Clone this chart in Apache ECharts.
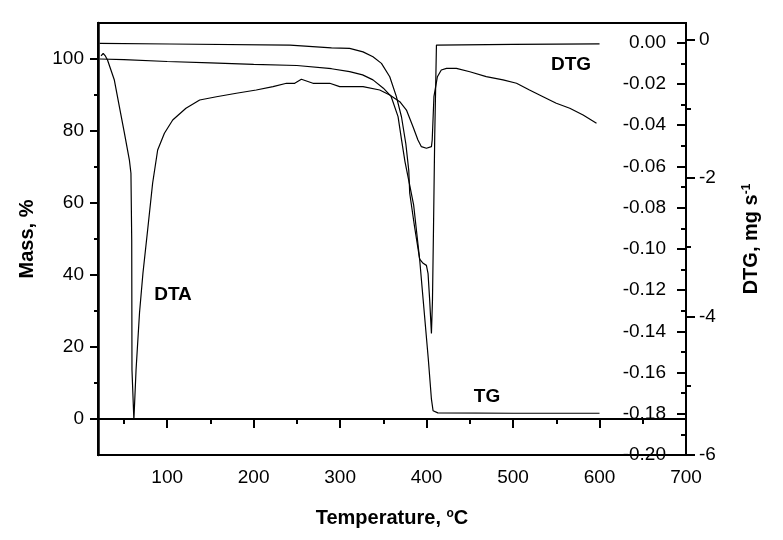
<!DOCTYPE html>
<html><head><meta charset="utf-8">
<script src="https://cdn.jsdelivr.net/npm/echarts@6/dist/echarts.min.js"></script>
<style>html,body{margin:0;padding:0;background:#fff}#c{width:783px;height:540px}</style>
</head><body><div id="c"></div>
<script>
// Temperature (°C) and mass (%) for the TG curve
const tgTemp = [22, 50, 100, 150, 200, 250, 290, 311, 326, 338, 350, 359, 367, 371, 375, 380, 385, 392, 396, 402, 405.6, 407.5, 413, 500, 600];
const tgMass = [100.0, 99.8, 99.3, 98.9, 98.5, 98.2, 97.3, 96.5, 95.6, 94.2, 91.9, 89.6, 84.0, 77.6, 71.5, 65.5, 59.5, 44.3, 33.2, 16.6, 5.5, 2.3, 1.7, 1.6, 1.6];

// DTG curve (inner right axis)
const dtgTemp = [22, 103, 242, 290, 311, 326.5, 338, 347.8, 357.4, 365, 371, 376, 379.4, 380.5, 386, 392, 396, 399.8, 401.7, 403.6, 405.6, 406.8, 408, 409.4, 411.4, 500, 600];
const dtgVal = [-0.0003, -0.0006, -0.0011, -0.0025, -0.0027, -0.0044, -0.0068, -0.010, -0.0165, -0.026, -0.036, -0.049, -0.062, -0.073, -0.089, -0.105, -0.107, -0.108, -0.112, -0.125, -0.141, -0.125, -0.090, -0.0456, -0.0011, -0.0008, -0.0005];

// DTA curve (outer right axis)
const dtaTemp = [23.5, 26, 28.5, 31, 38.9, 44.7, 50.5, 56.3, 58.1, 59, 59.3, 61.5, 64, 68, 72, 77.4, 83.2, 89, 96.8, 106.4, 121.7, 137.6, 157, 180, 203, 222.4, 238, 247.5, 255.2, 268.6, 288, 299.5, 311, 326.5, 345.8, 357.4, 369, 376.7, 384.3, 390, 394, 399.8, 405.6, 406.5, 408.5, 412.5, 417, 423, 434.5, 450, 469, 488.4, 504, 519, 534.7, 550, 565.6, 581, 596.5];
const dtaVal = [-0.24, -0.205, -0.24, -0.299, -0.588, -0.973, -1.352, -1.743, -1.934, -2.897, -4.773, -5.495, -4.773, -3.951, -3.373, -2.753, -2.074, -1.598, -1.357, -1.165, -0.996, -0.876, -0.829, -0.779, -0.732, -0.684, -0.635, -0.635, -0.577, -0.635, -0.635, -0.684, -0.684, -0.684, -0.732, -0.804, -0.901, -1.021, -1.262, -1.454, -1.550, -1.573, -1.550, -1.454, -0.829, -0.540, -0.443, -0.419, -0.419, -0.468, -0.540, -0.587, -0.635, -0.732, -0.829, -0.924, -0.996, -1.093, -1.212];

// Tick values
const xTicks = [100, 200, 300, 400, 500, 600, 700];
const xMinor = [50, 150, 250, 350, 450, 550, 650];
const massTicks = [0, 20, 40, 60, 80, 100];
const massMinor = [10, 30, 50, 70, 90];
const dtgTicks = [0, -0.02, -0.04, -0.06, -0.08, -0.10, -0.12, -0.14, -0.16, -0.18, -0.20];
const dtgMinor = [-0.01, -0.03, -0.05, -0.07, -0.09, -0.11, -0.13, -0.15, -0.17, -0.19];
const outerTicks = [0, -2, -4, -6];
const outerMinor = [-1, -3, -5];

const zip = (a, b) => a.map((v, i) => [v, b[i]]);
const FONT = 'Liberation Sans, Arial, sans-serif';
const labelStyle = { color: '#000', fontSize: 19, fontFamily: FONT };
const black = { color: '#000', width: 2 };
const titleStyle = { color: '#000', fontSize: 20, fontWeight: 'bold', fontFamily: FONT,
  rich: { sup: { fontSize: 12, fontWeight: 'bold', fontFamily: FONT, verticalAlign: 'top', lineHeight: 14 } } };

const chart = echarts.init(document.getElementById('c'), null, { renderer: 'canvas' });
chart.setOption({
  animation: false,
  backgroundColor: '#fff',
  grid: { left: 98, top: 23, right: 97, bottom: 85, show: true, borderColor: '#000', borderWidth: 2 },
  xAxis: [
    {
      type: 'value', min: 20, max: 700, position: 'bottom',
      name: 'Temperature, {sup|o}C', nameLocation: 'middle', nameGap: 53,
      nameTextStyle: titleStyle,
      axisLine: { lineStyle: black },
      axisTick: { customValues: xTicks, length: 9, lineStyle: { color: '#000', width: 2 } },
      axisLabel: Object.assign({ customValues: xTicks, margin: 13 }, labelStyle),
      splitLine: { show: false }
    },
    {
      type: 'value', min: 20, max: 700, position: 'bottom',
      axisLine: { show: false },
      axisTick: { customValues: xMinor, length: 5, lineStyle: { color: '#000', width: 2 } },
      axisLabel: { show: false }, splitLine: { show: false }
    }
  ],
  yAxis: [
    {
      type: 'value', min: -10, max: 110, position: 'left',
      name: 'Mass, %', nameLocation: 'middle', nameGap: 61, nameRotate: 90,
      nameTextStyle: titleStyle,
      axisLine: { show: true, lineStyle: { color: '#000', width: 2.5 } },
      axisTick: { customValues: massTicks, length: 8, lineStyle: { color: '#000', width: 2 } },
      axisLabel: Object.assign({ customValues: massTicks, margin: 14 }, labelStyle),
      splitLine: { show: false }
    },
    {
      type: 'value', min: -10, max: 110, position: 'left',
      axisLine: { show: false },
      axisTick: { customValues: massMinor, length: 4, lineStyle: { color: '#000', width: 2 } },
      axisLabel: { show: false }, splitLine: { show: false }
    },
    {
      type: 'value', min: -0.2, max: 0.0096, position: 'right',
      axisLine: { show: true, lineStyle: black },
      axisTick: { customValues: dtgTicks, inside: true, length: 9, lineStyle: { color: '#000', width: 2 } },
      axisLabel: Object.assign({ customValues: dtgTicks, inside: true, margin: 20, formatter: v => v.toFixed(2) }, labelStyle),
      splitLine: { show: false }
    },
    {
      type: 'value', min: -6, max: 0.235, position: 'right',
      name: 'DTG, mg s{sup|-1}', nameLocation: 'middle', nameGap: 55, nameRotate: 90,
      nameTextStyle: titleStyle,
      axisLine: { show: true, lineStyle: black },
      axisTick: { customValues: outerTicks, length: 9, lineStyle: { color: '#000', width: 2 } },
      axisLabel: Object.assign({ customValues: outerTicks, margin: 13 }, labelStyle),
      splitLine: { show: false }
    },
    {
      type: 'value', min: -0.2, max: 0.0096, position: 'right',
      axisLine: { show: false },
      axisTick: { customValues: dtgMinor, inside: true, length: 5, lineStyle: { color: '#000', width: 2 } },
      axisLabel: { show: false }, splitLine: { show: false }
    },
    {
      type: 'value', min: -6, max: 0.235, position: 'right',
      axisLine: { show: false },
      axisTick: { customValues: outerMinor, length: 5, lineStyle: { color: '#000', width: 2 } },
      axisLabel: { show: false }, splitLine: { show: false }
    }
  ],
  series: [
    { name: 'TG', type: 'line', xAxisIndex: 0, yAxisIndex: 0, data: zip(tgTemp, tgMass), showSymbol: false, symbol: 'none',
      lineStyle: { color: '#000', width: 1.2 } },
    { name: 'DTG', type: 'line', xAxisIndex: 0, yAxisIndex: 2, data: zip(dtgTemp, dtgVal), showSymbol: false, symbol: 'none',
      lineStyle: { color: '#000', width: 1.2 } },
    { name: 'DTA', type: 'line', xAxisIndex: 0, yAxisIndex: 3, data: zip(dtaTemp, dtaVal), showSymbol: false, symbol: 'none',
      lineStyle: { color: '#000', width: 1.2 } }
  ],
  graphic: [
    { type: 'text', x: 571, y: 65, style: { text: 'DTG', fill: '#000', font: 'bold 19px ' + FONT, align: 'center', verticalAlign: 'middle' } },
    { type: 'text', x: 173, y: 295, style: { text: 'DTA', fill: '#000', font: 'bold 19px ' + FONT, align: 'center', verticalAlign: 'middle' } },
    { type: 'text', x: 487, y: 397, style: { text: 'TG', fill: '#000', font: 'bold 19px ' + FONT, align: 'center', verticalAlign: 'middle' } }
  ]
});
</script>
</body></html>
